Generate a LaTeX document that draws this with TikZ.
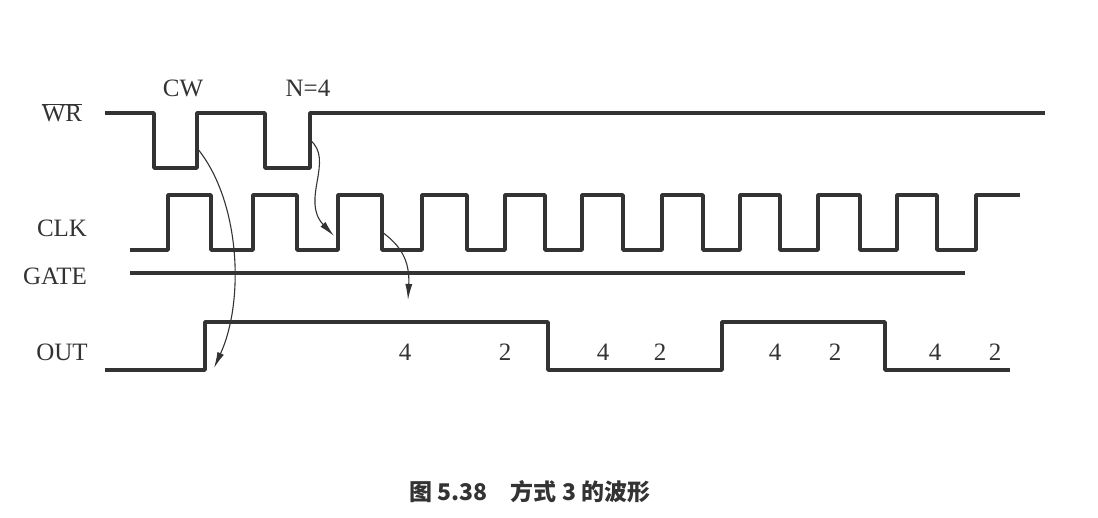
\documentclass[tikz,border=0pt]{standalone}
\usepackage{fontspec}
\setmainfont{Liberation Serif}
\newfontfamily\cjk{Noto Sans CJK SC}
\usetikzlibrary{arrows.meta}
\begin{document}
\begin{tikzpicture}[x=1pt,y=-1pt,
  wave/.style={line width=3.6pt,line join=round,draw=black!80},
  lbl/.style={font=\fontsize{25}{27}\selectfont,inner sep=0pt,text=black!80},
  arr/.style={line width=1.1pt,draw=black!80,-{Latex[length=16pt,width=7pt]}}]
\useasboundingbox (0,0) rectangle (1098,518);
\fill[white] (0,0) rectangle (1098,518);
% WR
\draw[wave] (105,113) -- (154,113) -- (154,168) -- (197,168) -- (197,113) -- (265,113) -- (265,168) -- (310,168) -- (310,113) -- (1045,113);
% CLK
\draw[wave] (130,250)
  \foreach \r/\f in {168/211,253/297,338/382,422/467,505/545,582/623,662/703,740/780,818/860,897/937}{ -- (\r,250) -- (\r,195) -- (\f,195) -- (\f,250)} -- (976,250) -- (976,195) -- (1020,195);
% GATE
\draw[wave] (130,273) -- (965,273);
% OUT
\draw[wave] (105,370) -- (205,370) -- (205,322) -- (548,322) -- (548,370) -- (722,370) -- (722,322) -- (885,322) -- (885,370) -- (1010,370);
% labels
\node[lbl] (wr) at (62,113) {$\overline{\mbox{WR}}$};
\node[lbl] (clk) at (62,228) {CLK};
\node[lbl] (gate) at (55,276) {GATE};
\node[lbl] (out) at (62,352) {OUT};
\node[lbl] (cw) at (183,88) {CW};
\node[lbl] (n4) at (308,88) {N=4};
\foreach \x/\t in {405/4,505/2,603/4,660/2,775/4,835/2,935/4,995/2}
  \node[lbl] at (\x,352) {\t};
% arrows
\coordinate (a1) at (197,148); \coordinate (b1) at (214,368);
\draw[arr] (a1) .. controls (240,200) and (245,300) .. (b1);
\coordinate (a2) at (310,140); \coordinate (b2) at (334,236);
\draw[arr] (a2) .. controls (335,160) and (300,200) .. (b2);
\coordinate (a3) at (382,232); \coordinate (b3) at (408,300);
\draw[arr] (a3) .. controls (400,245) and (410,260) .. (b3);
\node[font=\cjk\bfseries\fontsize{23}{25}\selectfont,text=black!80] (cap) at (530,492) {图 5.38\quad 方式 3 的波形};
\end{tikzpicture}
\end{document}
